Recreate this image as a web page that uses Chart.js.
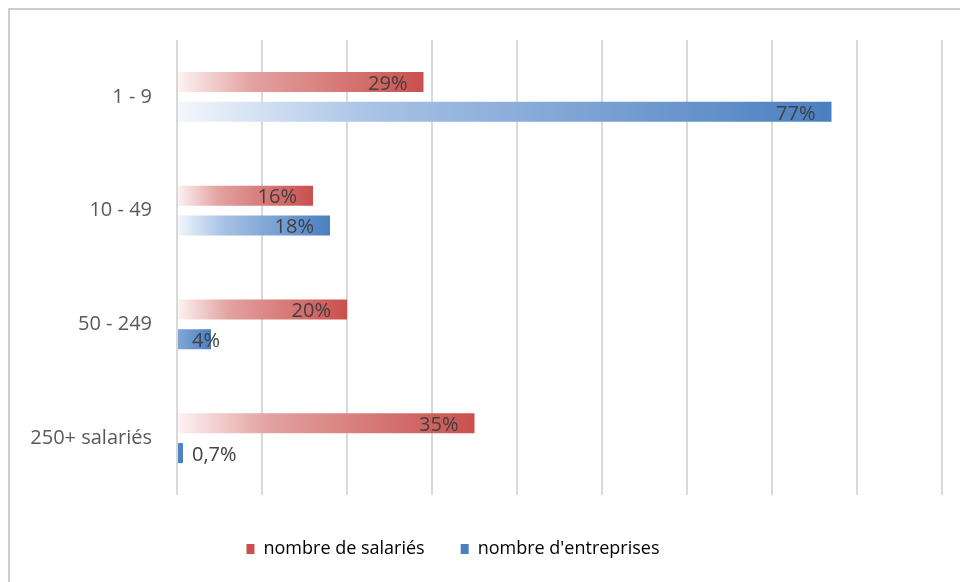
<!DOCTYPE html>
<html lang="fr">
<head>
<meta charset="utf-8">
<script src="https://cdn.jsdelivr.net/npm/chart.js@4"></script>
<style>
  html, body { margin: 0; padding: 0; background: #fff; }
  #wrap { position: relative; width: 960px; height: 582px; overflow: hidden; }
  #frame {
    position: absolute; left: 8px; top: 8px; width: 980px; height: 600px;
    border-top: 2px solid #cdcdcd; border-left: 2px solid #cdcdcd;
  }
  #chart { position: absolute; left: 0; top: 0; }
</style>
</head>
<body>
<div id="wrap">
  <div id="frame"></div>
  <canvas id="chart" width="960" height="582"></canvas>
</div>
<script>
// Tranches de taille d'entreprise
const categories = ['1 - 9', '10 - 49', '50 - 249', '250+ salariés'];
const seriesNames = ['nombre de salariés', "nombre d'entreprises"];
// Parts en %
const salaries = [29, 16, 20, 35];
const entreprises = [77, 18, 4, 0.7];
const xMax = 90;
const xStep = 10;

const FONT = "'Open Sans', Lato, sans-serif";
const redEnd = '#c9504e';
const blueEnd = '#4a7fc0';

// dégradé horizontal, du clair vers la couleur pleine au bout de la barre
function barGradient(context, stops) {
  const chart = context.chart;
  const xScale = chart.scales.x;
  if (!xScale || context.raw == null) return stops[stops.length - 1][1];
  const x0 = xScale.getPixelForValue(0);
  const x1 = xScale.getPixelForValue(context.raw);
  if (!isFinite(x0) || !isFinite(x1) || x1 - x0 < 1) return stops[stops.length - 1][1];
  const start = Math.min(x0, x1 - 80);
  const g = chart.ctx.createLinearGradient(start, 0, x1, 0);
  stops.forEach(s => g.addColorStop(s[0], s[1]));
  return g;
}

const redStops = [[0, '#fdf3f3'], [0.3, '#e3a3a1'], [1, redEnd]];
const blueStops = [[0, '#f3f7fc'], [0.3, '#a8c2e5'], [1, blueEnd]];

// étiquettes de valeur au bout des barres
const valueLabels = {
  id: 'valueLabels',
  afterDatasetsDraw(chart) {
    const ctx = chart.ctx;
    ctx.save();
    ctx.font = '20px ' + FONT;
    ctx.fillStyle = '#404040';
    ctx.textBaseline = 'middle';
    chart.data.datasets.forEach((ds, di) => {
      const meta = chart.getDatasetMeta(di);
      meta.data.forEach((bar, i) => {
        const text = String(ds.data[i]).replace('.', ',') + '%';
        const w = ctx.measureText(text).width;
        const len = bar.x - bar.base;
        if (len > w + 24) {
          ctx.textAlign = 'right';
          ctx.fillText(text, bar.x - 16, bar.y + 2);
        } else {
          ctx.textAlign = 'left';
          ctx.fillText(text, bar.base + 14, bar.y + 2);
        }
      });
    });
    ctx.restore();
  }
};

// recentre la légende sous la zone de tracé
const legendShift = {
  id: 'legendShift',
  afterLayout(chart) {
    if (chart.legend) {
      chart.legend.left -= 18;
      chart.legend.right -= 18;
    }
  }
};

new Chart(document.getElementById('chart'), {
  type: 'bar',
  data: {
    labels: categories,
    datasets: [
      {
        label: seriesNames[0],
        data: salaries,
        backgroundColor: ctx => barGradient(ctx, redStops),
        legendColor: redEnd,
        borderWidth: 0,
        categoryPercentage: 0.527,
        barPercentage: 0.667
      },
      {
        label: seriesNames[1],
        data: entreprises,
        backgroundColor: ctx => barGradient(ctx, blueStops),
        legendColor: blueEnd,
        borderWidth: 0,
        categoryPercentage: 0.527,
        barPercentage: 0.667
      }
    ]
  },
  options: {
    indexAxis: 'y',
    responsive: false,
    animation: false,
    layout: {
      padding: { left: 0, right: 18, top: 40, bottom: 14 }
    },
    plugins: {
      tooltip: { enabled: false },
      legend: {
        position: 'bottom',
        labels: {
          boxWidth: 8,
          boxHeight: 10,
          padding: 36,
          color: '#595959',
          font: { family: FONT, size: 18 },
          generateLabels(chart) {
            return chart.data.datasets.map((ds, i) => ({
              text: ds.label,
              fillStyle: ds.legendColor,
              strokeStyle: ds.legendColor,
              lineWidth: 0,
              hidden: false,
              datasetIndex: i
            }));
          }
        }
      }
    },
    scales: {
      x: {
        min: 0,
        max: xMax,
        ticks: { display: false, stepSize: xStep },
        grid: { color: '#d9d9d9', lineWidth: 2, drawTicks: false },
        border: { display: false },
        afterFit(scale) { scale.height = 9; }
      },
      y: {
        ticks: {
          color: '#595959',
          padding: 25,
          font: { family: FONT, size: 20 }
        },
        grid: { display: false, drawTicks: false },
        border: { display: false },
        afterFit(scale) { scale.width = 177; }
      }
    }
  },
  plugins: [valueLabels, legendShift]
});
</script>
</body>
</html>
